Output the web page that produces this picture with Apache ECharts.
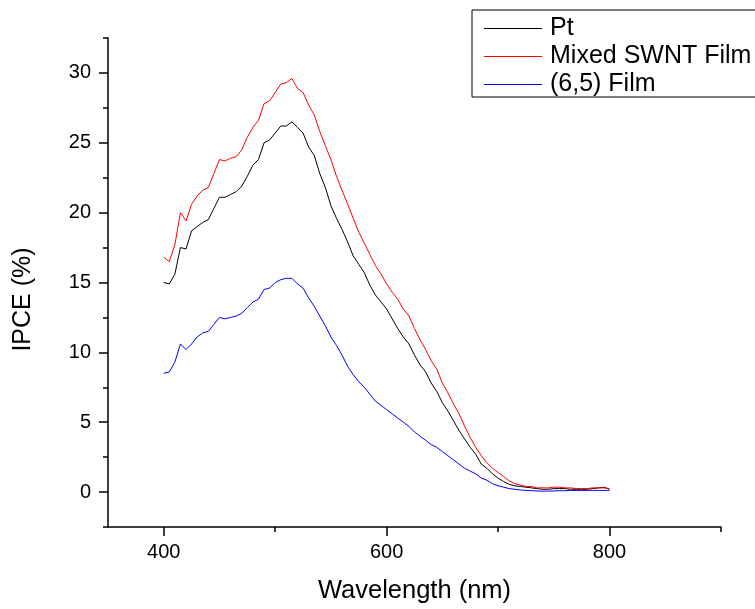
<!DOCTYPE html>
<html>
<head>
<meta charset="utf-8">
<script src="https://cdn.jsdelivr.net/npm/echarts@6/dist/echarts.min.js"></script>
<style>
html,body{margin:0;padding:0;background:#fff;}
#chart{width:755px;height:609px;}
</style>
</head>
<body>
<div id="chart"></div>
<script>
// Wavelength (nm), 5 nm steps from 400 to 800
const wavelengths = [];
for (let w = 400; w <= 800; w += 5) wavelengths.push(w);

const ptValues = [
15.0,14.9,15.6,17.5,17.4,18.7,19.0,19.3,19.5,20.3,
21.1,21.1,21.3,21.5,21.9,22.6,23.4,23.8,25.0,25.2,
25.7,26.2,26.2,26.5,26.1,25.7,24.7,24.1,22.8,21.8,
20.5,19.6,18.8,17.9,16.9,16.3,15.7,14.8,14.1,13.6,
13.1,12.4,11.7,11.1,10.6,9.8,9.1,8.6,7.8,7.2,
6.4,5.8,5.1,4.4,3.8,3.2,2.7,2.0,1.7,1.3,
1.0,0.75,0.55,0.45,0.4,0.35,0.3,0.25,0.2,0.2,
0.25,0.25,0.25,0.2,0.2,0.2,0.2,0.25,0.3,0.35,0.2
];

const mixedValues = [
16.8,16.5,17.7,20.0,19.4,20.6,21.2,21.6,21.8,22.8,
23.8,23.7,23.9,24.0,24.5,25.4,26.1,26.6,27.8,28.0,
28.6,29.2,29.3,29.6,28.9,28.6,27.7,27.0,25.8,24.8,
23.8,22.6,21.6,20.6,19.6,18.6,17.8,17.0,16.2,15.6,
14.9,14.3,13.8,13.1,12.6,11.7,10.9,10.2,9.4,8.8,
7.8,7.1,6.3,5.6,4.7,3.9,3.2,2.6,2.1,1.7,
1.4,1.1,0.8,0.6,0.5,0.4,0.4,0.3,0.3,0.3,
0.35,0.35,0.3,0.3,0.25,0.25,0.25,0.3,0.3,0.3,0.25
];

const film65Values = [
8.5,8.6,9.3,10.6,10.2,10.6,11.1,11.4,11.5,12.0,
12.5,12.4,12.5,12.6,12.8,13.2,13.6,13.8,14.5,14.6,
15.0,15.2,15.3,15.3,14.9,14.6,13.9,13.3,12.6,11.9,
11.1,10.5,9.8,9.0,8.4,7.9,7.5,7.0,6.5,6.2,
5.9,5.6,5.3,5.0,4.7,4.3,4.0,3.7,3.4,3.2,
2.9,2.6,2.3,2.0,1.7,1.5,1.3,1.0,0.85,0.6,
0.45,0.35,0.25,0.2,0.15,0.12,0.1,0.08,0.07,0.07,
0.08,0.1,0.1,0.12,0.12,0.12,0.12,0.12,0.12,0.12,0.12
];

const seriesNames = ['Pt', 'Mixed SWNT Film', '(6,5) Film'];
const xMajorTicks = [400, 600, 800];
const xMinorTicks = [500, 700, 900];
const yMajorTicks = [0, 5, 10, 15, 20, 25, 30];
const yMinorTicks = [-2.5, 2.5, 7.5, 12.5, 17.5, 22.5, 27.5, 32.5];

const FONT = '"Liberation Sans", Arial, sans-serif';
const pair = (vals) => wavelengths.map((w, i) => [w, vals[i]]);

const chart = echarts.init(document.getElementById('chart'), null, {renderer: 'canvas'});
const axisLineStyle = {color: '#000', width: 1.5};

chart.setOption({
  animation: false,
  backgroundColor: '#fff',
  grid: {left: 108, right: 34, top: 38, bottom: 79, containLabel: false},
  legend: {
    left: 472, top: 10,
    orient: 'vertical',
    padding: [6, 40, 0, 12],
    itemGap: 3,
    icon: 'rect',
    itemWidth: 58, itemHeight: 1,
    borderColor: '#000', borderWidth: 1,
    textStyle: {fontFamily: FONT, fontSize: 25, color: '#000', padding: [0, 0, 0, 3]},
    data: seriesNames
  },
  xAxis: [{
    type: 'value', min: 350, max: 900,
    name: 'Wavelength (nm)', nameLocation: 'middle', nameGap: 51,
    nameTextStyle: {fontFamily: FONT, fontSize: 25.5, color: '#000'},
    axisLine: {show: true, onZero: false, lineStyle: axisLineStyle},
    axisTick: {show: true, length: 9, lineStyle: axisLineStyle, customValues: xMajorTicks},
    axisLabel: {fontFamily: FONT, fontSize: 20, color: '#000', margin: 15, customValues: xMajorTicks},
    splitLine: {show: false}
  }, {
    type: 'value', min: 350, max: 900, position: 'bottom',
    axisLine: {show: false, onZero: false},
    axisTick: {show: true, length: 5, lineStyle: axisLineStyle, customValues: xMinorTicks},
    axisLabel: {show: false},
    splitLine: {show: false}
  }],
  yAxis: [{
    type: 'value', min: -2.5, max: 32.5,
    name: 'IPCE (%)', nameLocation: 'middle', nameGap: 72, nameRotate: 90,
    nameTextStyle: {fontFamily: FONT, fontSize: 25, color: '#000', padding: [0, 34, 0, 0]},
    axisLine: {show: true, onZero: false, lineStyle: axisLineStyle},
    axisTick: {show: true, length: 9, lineStyle: axisLineStyle, customValues: yMajorTicks},
    axisLabel: {fontFamily: FONT, fontSize: 20, color: '#000', margin: 17, customValues: yMajorTicks},
    splitLine: {show: false}
  }, {
    type: 'value', min: -2.5, max: 32.5, position: 'left',
    axisLine: {show: false, onZero: false},
    axisTick: {show: true, length: 5, lineStyle: axisLineStyle, customValues: yMinorTicks},
    axisLabel: {show: false},
    splitLine: {show: false}
  }],
  series: [
    {name: seriesNames[0], type: 'line', data: pair(ptValues), symbol: 'none',
     lineStyle: {color: '#000000', width: 1}, itemStyle: {color: '#000000'}},
    {name: seriesNames[1], type: 'line', data: pair(mixedValues), symbol: 'none',
     lineStyle: {color: '#ff0000', width: 1}, itemStyle: {color: '#ff0000'}},
    {name: seriesNames[2], type: 'line', data: pair(film65Values), symbol: 'none',
     lineStyle: {color: '#0000ff', width: 1}, itemStyle: {color: '#0000ff'}}
  ]
});
</script>
</body>
</html>
